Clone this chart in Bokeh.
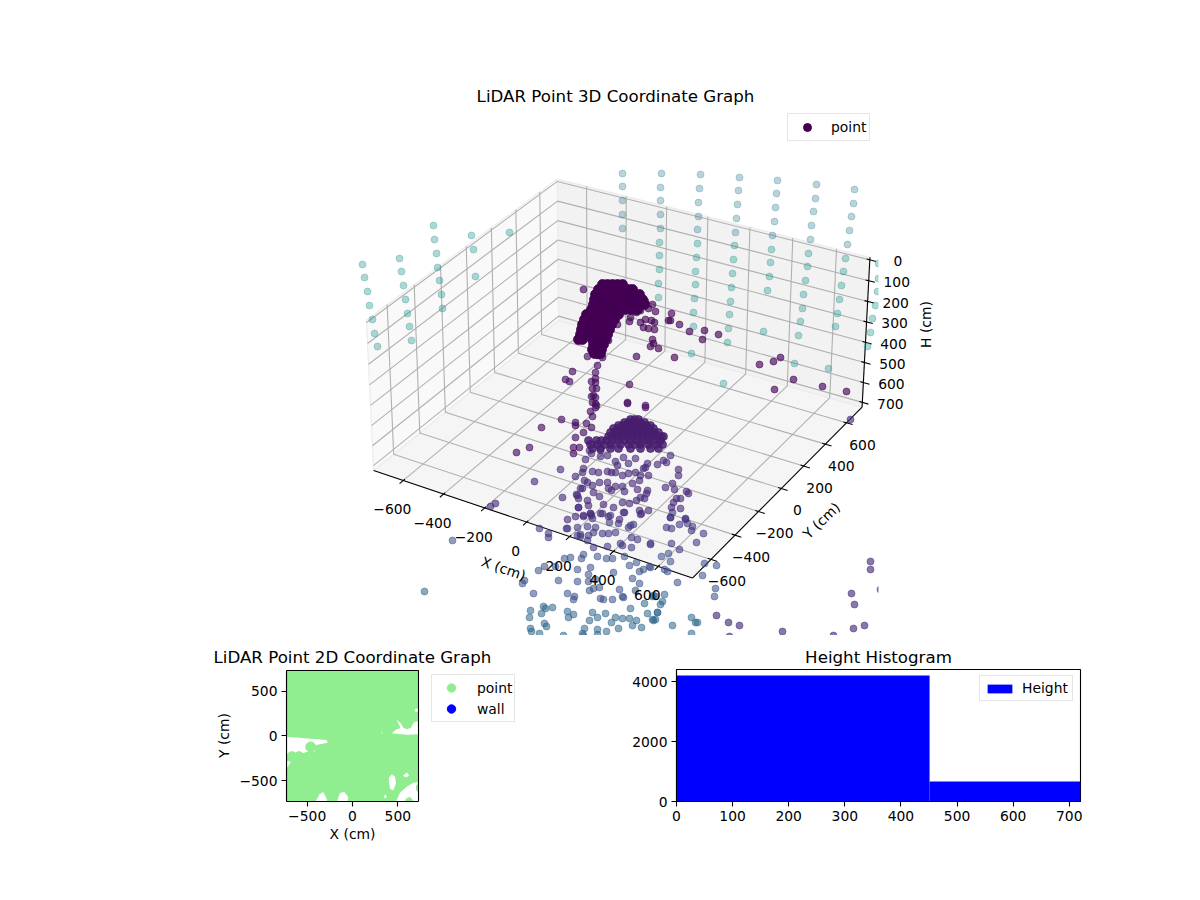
import numpy as np
from bokeh.plotting import figure
from bokeh.embed import file_html
from bokeh.resources import INLINE
from bokeh.layouts import column, row
from bokeh.models import Range1d, Legend, LegendItem, FixedTicker, LinearAxis
from bokeh.palettes import Viridis256
from bokeh.core.properties import value

FONT = "DejaVu Sans"

# ---- 3D axes: limits, ticks and the reference's view of the box ----
x_lim = [-750, 750]
y_lim = [-750, 750]
h_lim = [-12, 724]
x_ticks = [-600, -400, -200, 0, 200, 400, 600]
y_ticks = [-600, -400, -200, 0, 200, 400, 600]
h_ticks = [0, 100, 200, 300, 400, 500, 600, 700]
# (x side, y side, h side) -> where that box corner sits in the picture
view_corners = [
    ((0, 0, 1), (373, 467)), ((1, 0, 1), (693, 578)), ((1, 1, 1), (862, 407)), ((0, 1, 1), (557, 322)),
    ((0, 0, 0), (365, 322)), ((0, 1, 0), (559, 177)), ((1, 1, 0), (868, 256)),
]

# ---- 3D scatter, as read in the picture's view plane (u right, v down) ----
blob_rows = {
    284: [602, 607, 612, 617, 622],
    289: [598, 603, 608, 613, 618, 623, 628, 632],
    294: [595, 600, 605, 610, 615, 620, 625, 630, 635, 639],
    299: [594, 599, 604, 609, 614, 619, 624, 629, 634, 639, 642],
    304: [593, 598, 603, 608, 613, 618, 622, 626, 630, 634, 640, 644],
    309: [591, 596, 601, 606, 611, 616, 620, 625, 630, 634, 637],
    314: [586, 590, 595, 600, 605, 610, 615, 618],
    319: [584, 589, 594, 599, 604, 609, 614],
    324: [582, 587, 592, 597, 602, 607, 611],
    329: [581, 586, 591, 596, 601, 606, 609],
    334: [580, 584, 592, 597, 602, 607],
    339: [578, 582, 592, 597, 602, 605],
    344: [593, 598, 603],
    349: [592, 597, 601],
    353: [594, 598, 600],
}
top_near_u = [583, 645, 652, 648, 655, 640, 636, 630, 629, 640, 645, 651, 654, 643, 648, 654, 671, 670, 668, 679, 689, 704, 718, 702, 652, 653, 650, 658, 636, 674, 617, 608, 759, 773, 780, 793, 774, 822, 846]
top_near_v = [289, 301, 304, 308, 311, 310, 312, 317, 321, 322, 319, 320, 322, 327, 328, 329, 313, 320, 320, 324, 331, 330, 334, 339, 339, 343, 346, 348, 356, 357, 324, 340, 364, 361, 357, 379, 389, 386, 391]
stem_u = [597, 602, 587, 597, 595, 595, 591, 595, 592, 596, 593, 591, 595, 595, 572, 565, 569, 629, 627, 645, 592, 596, 595, 627, 645, 590, 592, 561, 541, 575, 575, 586, 591, 583, 575, 529, 516, 579, 573, 573]
stem_v = [355, 357, 356, 365, 372, 378, 381, 382, 388, 388, 395, 396, 397, 403, 371, 379, 381, 384, 402, 405, 402, 405, 407, 403, 407, 411, 416, 419, 427, 422, 425, 423, 427, 432, 437, 447, 452, 447, 447, 453]
dome_rows = {
    419: [630, 634, 638],
    422: [624, 628, 632, 636, 640, 644],
    425: [618, 622, 626, 630, 634, 638, 642, 646, 650],
    428: [613, 617, 621, 625, 629, 633, 637, 641, 645, 649, 653],
    432: [610, 614, 618, 622, 626, 630, 634, 638, 642, 646, 650, 654, 658],
    436: [608, 612, 617, 622, 627, 632, 637, 642, 647, 652, 657, 661, 663],
    440: [588, 596, 601, 606, 612, 618, 624, 630, 636, 642, 648, 654, 660],
    444: [590, 597, 604, 611, 620, 628, 634, 640, 648, 656, 662],
    448: [592, 600, 610, 618, 630, 640, 650, 658],
}
mid_u = [600, 607, 600, 615, 617, 623, 628, 635, 647, 657, 663, 670, 666, 635, 628, 622, 615, 598, 592, 607, 611, 582, 575, 583, 584, 587, 582, 592, 593, 599, 607, 599, 608, 611, 615, 622, 624, 632, 639, 647, 637, 646, 644, 640, 636, 629, 622, 613, 603, 587, 578, 576, 562, 588, 578, 590, 591, 575, 583, 567, 600, 608, 624, 619, 639, 641, 648, 671, 673, 676, 680, 680, 674, 672, 665, 678, 678, 686, 688, 670, 685, 640, 648, 643, 645, 585, 589, 591, 560, 534, 490, 495, 580, 577, 578]
mid_v = [450, 455, 456, 461, 465, 457, 463, 458, 463, 464, 460, 455, 462, 472, 473, 475, 472, 472, 471, 471, 472, 472, 476, 468, 480, 482, 488, 485, 492, 482, 482, 496, 488, 490, 486, 486, 491, 483, 480, 490, 489, 493, 498, 497, 500, 503, 502, 507, 504, 500, 498, 494, 497, 505, 507, 513, 515, 516, 515, 519, 513, 516, 512, 519, 510, 513, 510, 507, 502, 498, 498, 508, 489, 483, 487, 469, 475, 491, 493, 517, 518, 475, 475, 468, 467, 459, 450, 453, 469, 481, 506, 503, 488, 495, 507]
low_a_u = [567, 577, 583, 590, 592, 602, 610, 623, 640, 618, 609, 630, 633, 628, 587, 595, 593, 602, 608, 615, 588, 587, 580, 577, 539, 548, 548, 631, 637, 650, 620, 622, 607, 593, 631, 672, 670, 666, 671, 679, 685, 687, 692, 691, 703, 696, 671, 650, 679, 566, 580]
low_a_v = [528, 527, 516, 513, 518, 513, 515, 512, 514, 523, 522, 525, 524, 527, 526, 527, 532, 533, 533, 532, 535, 540, 536, 535, 528, 533, 537, 537, 539, 543, 543, 545, 546, 547, 547, 512, 517, 527, 528, 524, 519, 523, 526, 530, 533, 542, 543, 544, 549, 528, 534]
low_b_u = [452, 624, 597, 606, 612, 583, 581, 570, 564, 629, 636, 639, 643, 649, 613, 544, 538, 555, 577, 588, 590, 558, 577, 588, 595, 524, 522, 632, 639, 599, 593, 589, 619, 635, 567, 574, 573, 533, 622, 600, 603, 612, 623, 668, 661, 670, 704, 716, 702, 677, 664, 667, 650, 715, 714]
low_b_v = [540, 556, 556, 558, 558, 554, 558, 557, 558, 565, 562, 571, 569, 566, 572, 566, 570, 566, 569, 574, 567, 580, 581, 581, 579, 580, 583, 578, 583, 587, 588, 590, 589, 590, 593, 596, 599, 593, 596, 598, 599, 599, 597, 553, 556, 561, 563, 565, 575, 582, 569, 571, 567, 588, 596]
low_c_u = [424, 644, 630, 652, 655, 543, 552, 545, 530, 541, 529, 567, 573, 568, 592, 605, 597, 589, 615, 622, 629, 647, 657, 636, 611, 544, 546, 632, 641, 653, 530, 531, 539, 563, 584, 582, 597, 597, 606, 618, 583, 664, 662, 660, 657, 655, 652, 653, 691, 695, 697, 672, 691]
low_c_v = [591, 603, 608, 596, 596, 606, 607, 608, 610, 613, 617, 611, 614, 617, 612, 613, 617, 620, 617, 618, 618, 613, 612, 620, 622, 623, 626, 625, 627, 620, 628, 631, 633, 635, 628, 633, 629, 634, 631, 628, 635, 594, 601, 604, 612, 619, 619, 595, 617, 622, 622, 625, 633]
far_u = [716, 728, 739, 729, 782, 833, 853, 864, 854, 851, 870, 870, 880, 850]
far_v = [615, 622, 625, 636, 631, 635, 628, 625, 604, 593, 561, 569, 589, 419]
wall_top_u = [622, 622, 622, 622, 622, 661, 660, 660, 660, 660, 700, 699, 698, 698, 697, 739, 738, 737, 736, 735, 777, 776, 775, 774, 772, 816, 815, 813, 811, 810, 854, 853, 851, 849, 847]
wall_top_v = [173, 186, 200, 214, 228, 173, 187, 200, 214, 228, 174, 188, 202, 216, 229, 177, 190, 204, 218, 232, 180, 193, 207, 221, 235, 184, 198, 211, 225, 239, 189, 203, 216, 230, 244]
wall_low_u = [362, 364, 367, 369, 372, 374, 377, 399, 401, 403, 405, 407, 409, 411, 433, 434, 436, 437, 439, 441, 442, 471, 473, 475, 509, 659, 659, 659, 658, 658, 697, 696, 695, 695, 694, 693, 693, 691, 734, 733, 732, 731, 730, 729, 728, 727, 723, 771, 770, 769, 767, 763, 808, 807, 805, 803, 802, 800, 798, 794, 845, 843, 841, 839, 837, 835, 828, 878, 878, 877, 875, 872, 870, 867]
wall_low_v = [264, 277, 291, 305, 319, 333, 346, 258, 271, 285, 299, 313, 326, 340, 225, 239, 253, 267, 280, 294, 308, 235, 249, 276, 232, 242, 255, 269, 283, 297, 243, 257, 271, 284, 298, 312, 326, 353, 245, 259, 273, 287, 301, 314, 328, 342, 383, 249, 262, 276, 290, 331, 253, 266, 280, 294, 308, 321, 335, 363, 258, 271, 285, 299, 313, 326, 368, 263, 278, 291, 305, 318, 332, 346]

# ---- 2D coordinate graph ----
tick_2d = [-500, 0, 500]
limit_2d = [-728, 728]
point_circle_x = [-461, -668, -590]
point_circle_y = [-122, -230, -230]
empty_areas = [
    ([-728, -288, -273, -399, -413, -509, -546, -613, -694, -723, -723, -672, -723, -728],
     [-7, -44, -74, -100, -170, -178, -193, -185, -185, -230, -278, -278, -352, -363]),
    ([432, 487, 531, 506, 480, 531, 561, 598, 646, 672, 708, 728, 728, 598],
     [30, 74, 85, 141, 185, 141, 93, 74, 93, 148, 163, 148, 19, 15]),
    ([314, 339, 321], [44, 30, 30]),
    ([690, 728, 728, 690], [304, 304, 270, 270]),
    ([402, 432, 469, 480, 450, 417, 402], [-463, -426, -452, -526, -604, -593, -519]),
    ([554, 598, 624, 598], [-444, -407, -437, -459]),
    ([480, 524, 598, 672, 728, 701, 701, 728, 728, 679, 635, 590, 579],
     [-728, -630, -563, -519, -511, -556, -600, -630, -728, -728, -674, -696, -728]),
    ([-406, -362, -325, -288, -280], [-728, -648, -622, -685, -728]),
    ([-170, -140, -92, -48, -55], [-728, -637, -619, -674, -728]),
    ([347, 369, 376, 354], [-667, -648, -685, -693]),
]

# ---- Height histogram ----
hist_edges = [0, 451, 720]
hist_counts = [4200, 665]
hist_x_ticks = [0, 100, 200, 300, 400, 500, 600, 700]
hist_y_ticks = [0, 2000, 4000]
hist_y_max = 4400


def solve_camera():
    rows = []
    for (sx, sy, sh), (u, v) in view_corners:
        w = np.array([x_lim[sx] / 1000, y_lim[sy] / 1000, h_lim[sh] / 1000, 1.0])
        rows.append(np.r_[w, np.zeros(4), -u * w])
        rows.append(np.r_[np.zeros(4), w, -v * w])
    return np.linalg.svd(np.array(rows))[2][-1].reshape(3, 4)


CAM = solve_camera()


def proj(x, y, h):
    q = CAM @ np.array([x / 1000, y / 1000, h / 1000, 1.0])
    return q[0] / q[2], q[1] / q[2]


def path(pts):
    uv = [proj(*t) for t in pts]
    return [a for a, _ in uv], [b for _, b in uv]


def expand(rows):
    u, v = [], []
    for vv, us in rows.items():
        u += us
        v += [vv] * len(us)
    return u, v


x0, x1 = x_lim
y0, y1 = y_lim
h0, h1 = h_lim

p = figure(width=1192, height=635, output_backend="svg", toolbar_location=None,
           x_range=Range1d(38, 1192), y_range=Range1d(635, 109),
           min_border_left=38, min_border_right=0, min_border_top=109, min_border_bottom=0,
           title="LiDAR Point 3D Coordinate Graph")
p.axis.visible = False
p.grid.visible = False
p.outline_line_color = None
p.title.align = "center"
p.title.text_font = FONT
p.title.text_font_size = "16.67px"
p.title.text_font_style = "normal"
p.title.text_color = "black"
p.title.standoff = 7

# panes
for pts, col in [
    ([(x0, y0, h1), (x0, y1, h1), (x1, y1, h1), (x1, y0, h1)], "#f5f5f5"),
    ([(x0, y0, h1), (x0, y1, h1), (x0, y1, h0), (x0, y0, h0)], "#f9f9f9"),
    ([(x0, y1, h1), (x1, y1, h1), (x1, y1, h0), (x0, y1, h0)], "#f2f2f2"),
]:
    u, v = path(pts)
    p.patch(u, v, fill_color=col, line_color="#ececec", line_width=1.2)

# grid
GRID = dict(line_color="#b0b0b0", line_width=1.1)
for t in x_ticks:
    u, v = path([(t, y0, h1), (t, y1, h1), (t, y1, h0)])
    p.line(u, v, **GRID)
for t in y_ticks:
    u, v = path([(x1, t, h1), (x0, t, h1), (x0, t, h0)])
    p.line(u, v, **GRID)
for t in h_ticks:
    u, v = path([(x0, y0, t), (x0, y1, t), (x1, y1, t)])
    p.line(u, v, **GRID)

# axis lines and tick marks
for pts in [[(x0, y0, h1), (x1, y0, h1)], [(x1, y0, h1), (x1, y1, h1)], [(x1, y1, h1), (x1, y1, h0)]]:
    u, v = path(pts)
    p.line(u, v, line_color="black", line_width=1.1)
for t in x_ticks:
    u, v = path([(t, y0 - 28, h1), (t, y0 + 12, h1)])
    p.line(u, v, line_color="black", line_width=1.1)
for t in y_ticks:
    u, v = path([(x1 - 14, t, h1), (x1 + 28, t, h1)])
    p.line(u, v, line_color="black", line_width=1.1)
for t in h_ticks:
    u, v = path([(x1 - 14, y1, t), (x1 + 28, y1, t)])
    p.line(u, v, line_color="black", line_width=1.1)

# points: (u, v, colour position on viridis, alpha, size)
b_u, b_v = expand(blob_rows)
d_u, d_v = expand(dome_rows)
groups = [
    (wall_top_u, wall_top_v, 0.40, 0.33, 7),
    (wall_low_u, wall_low_v, 0.52, 0.36, 7),
    (low_c_u, low_c_v, 0.34, 0.56, 7),
    (far_u, far_v, 0.13, 0.64, 7),
    (low_b_u, low_b_v, 0.25, 0.56, 7),
    (low_a_u, low_a_v, 0.18, 0.60, 7),
    (mid_u, mid_v, 0.12, 0.62, 7),
    (d_u, d_v, 0.08, 0.85, 8),
    (stem_u, stem_v, 0.04, 0.65, 7),
    (top_near_u, top_near_v, 0.015, 0.65, 7),
    (b_u, b_v, 0.0, 1.0, 10),
]
for u, v, c, a_, s in groups:
    col = Viridis256[int(c * 255)]
    p.scatter(u, v, size=s, fill_color=col, line_color=col, fill_alpha=a_, line_alpha=a_, line_width=0.8)

# the 3D axes box clips the points on its right
p.quad(left=[878], right=[1192], bottom=[635], top=[109], fill_color="white", line_color=None)

# tick labels, axis labels
def labels(ticks, at, du, dv):
    us, vs, ts = [], [], []
    for t in ticks:
        a_, b_ = proj(*at(t))
        us.append(a_ + du)
        vs.append(b_ + dv)
        ts.append(str(t).replace("-", "\u2212"))
    p.text(us, vs, text=ts, text_font=value(FONT), text_font_size="13.89px", text_align="center",
           text_baseline="middle", text_color="black")

labels(x_ticks, lambda t: (t, y0, h1), -11, 29)
labels(y_ticks, lambda t: (x1, t, h1), 16, 22)
labels(h_ticks, lambda t: (x1, y1, t), 28, 1.5)

AX = dict(text_font=value(FONT), text_font_size="13.89px", text_align="center", text_baseline="middle", text_color="black")
p.text([503], [568], text=["X (cm)"], angle=[-19], angle_units="deg", **AX)
p.text([821], [520], text=["Y (cm)"], angle=[44], angle_units="deg", **AX)
p.text([925], [324], text=["H (cm)"], angle=[90], angle_units="deg", **AX)

NO_DATA = [float("nan")]
leg_r = p.scatter(NO_DATA, NO_DATA, size=8, fill_color="#440154", line_color="#440154")


def style_legend(lg):
    lg.label_text_font = FONT
    lg.label_text_font_size = "13.89px"
    lg.label_text_color = "black"
    lg.border_line_color = "#cccccc"
    lg.border_line_width = 1
    lg.background_fill_alpha = 0.8
    lg.margin = 0
    lg.padding = 3
    lg.spacing = 1
    lg.glyph_height = 20
    lg.glyph_width = 32
    lg.label_height = 18
    lg.label_standoff = 8


leg3 = Legend(items=[LegendItem(label="point", renderers=[leg_r])], location=(749, 494))
style_legend(leg3)
p.add_layout(leg3)


def style_axes(f):
    f.grid.visible = False
    f.outline_line_color = "black"
    f.outline_line_width = 1.1
    f.title.align = "center"
    f.title.text_font = FONT
    f.title.text_font_size = "16.67px"
    f.title.text_font_style = "normal"
    f.title.text_color = "black"
    f.title.standoff = 6
    for ax in f.axis:
        ax.major_tick_in = 0
        ax.major_tick_out = 5
        ax.minor_tick_line_color = None
        ax.major_tick_line_color = "black"
        ax.major_tick_line_width = 1.1
        ax.axis_line_color = "black"
        ax.axis_line_width = 1.1
        ax.major_label_text_font = FONT
        ax.major_label_text_font_size = "13.89px"
        ax.major_label_text_color = "black"
        ax.major_label_standoff = 4
        ax.axis_label_text_font = FONT
        ax.axis_label_text_font_size = "13.89px"
        ax.axis_label_text_font_style = "normal"
        ax.axis_label_text_color = "black"
        ax.axis_label_standoff = 4


# 2D panel: its frame runs on to the right so that the legend beside the square plot is not clipped
span = limit_2d[1] - limit_2d[0]
a = figure(width=530, height=257, output_backend="svg", toolbar_location=None,
           x_range=Range1d(limit_2d[0], limit_2d[0] + span * 244 / 132),
           y_range=Range1d(limit_2d[0], limit_2d[1] + span * 1 / 132),
           min_border_left=286, min_border_right=0, min_border_top=33, min_border_bottom=91,
           title="LiDAR Point 2D Coordinate Graph", y_axis_label="Y (cm)")
style_axes(a)
a.outline_line_color = None
a.title.align = "left"
a.title.offset = -73
a.xaxis.bounds = tuple(limit_2d)
a.yaxis.bounds = tuple(limit_2d)
a.xaxis.ticker = FixedTicker(ticks=tick_2d)
a.yaxis.ticker = FixedTicker(ticks=tick_2d)
a.xaxis.major_label_overrides = {t: str(t).replace("-", "\u2212") for t in tick_2d}
a.yaxis.major_label_overrides = {t: str(t).replace("-", "\u2212") for t in tick_2d}
# the X label centred under the square plot, not under the longer frame
x_label_axis = LinearAxis(ticker=FixedTicker(ticks=[0]), major_label_overrides={0: "X (cm)"},
                          axis_line_color=None, major_tick_line_color=None, minor_tick_line_color=None,
                          major_tick_in=0, major_tick_out=0, major_label_standoff=2,
                          major_label_text_font=FONT, major_label_text_font_size="13.89px",
                          major_label_text_color="black")
a.add_layout(x_label_axis, "below")
a.quad(left=[limit_2d[0]], right=[limit_2d[1]], bottom=[limit_2d[0]], top=[limit_2d[1]],
       fill_color="lightgreen", line_color=None)
a.patches([e[0] for e in empty_areas], [e[1] for e in empty_areas], fill_color="white", line_color=None)
a.scatter(point_circle_x, point_circle_y, size=10, fill_color="lightgreen", line_color="lightgreen")
a.quad(left=[limit_2d[0]], right=[limit_2d[1]], bottom=[limit_2d[0]], top=[limit_2d[1]],
       fill_color=None, line_color="black", line_width=1.1)
r_point = a.scatter(NO_DATA, NO_DATA, size=10, fill_color="lightgreen", line_color="lightgreen")
r_wall = a.scatter(NO_DATA, NO_DATA, size=10, fill_color="blue", line_color="blue")
leg2 = Legend(items=[LegendItem(label="point", renderers=[r_point]), LegendItem(label="wall", renderers=[r_wall])],
              location=(145, 79))
style_legend(leg2)
leg2.padding = 2
leg2.spacing = 0
leg2.glyph_height = 21
leg2.label_height = 21
leg2.glyph_width = 34
leg2.label_standoff = 9
a.add_layout(leg2)

# histogram panel
b = figure(width=662, height=257, output_backend="svg", toolbar_location=None,
           x_range=Range1d(0, 720), y_range=Range1d(0, hist_y_max),
           min_border_left=146, min_border_right=112, min_border_top=34, min_border_bottom=91,
           title="Height Histogram")
style_axes(b)
b.xaxis.ticker = FixedTicker(ticks=hist_x_ticks)
b.yaxis.ticker = FixedTicker(ticks=hist_y_ticks)
r_h = b.quad(left=hist_edges[:-1], right=hist_edges[1:], bottom=[0, 0], top=hist_counts,
             fill_color="blue", line_color=None)
leg4 = Legend(items=[LegendItem(label="Height", renderers=[r_h])], location=(303, 100))
style_legend(leg4)
leg4.padding = 4
leg4.glyph_width = 31
leg4.glyph_height = 11
leg4.label_height = 11
leg4.label_standoff = 7
b.add_layout(leg4)

page = column(p, row(a, b))
open("out.html", "w").write(file_html(page, INLINE))
